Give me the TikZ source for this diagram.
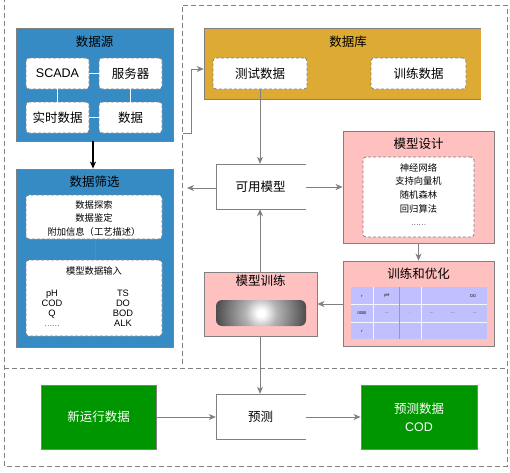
\documentclass[tikz,border=0pt]{standalone}
\usepackage{fontspec}
\setmainfont{Noto Sans CJK SC}
\newfontfamily\lat{Liberation Sans}
\usetikzlibrary{arrows.meta}
\definecolor{lgray}{RGB}{128,128,128}
\definecolor{sblue}{RGB}{54,139,196}
\definecolor{sorange}{RGB}{221,170,51}
\definecolor{spink}{RGB}{255,192,192}
\definecolor{sgreen}{RGB}{0,150,0}
\definecolor{slav}{RGB}{192,192,255}
\pgfdeclareradialshading{myrad}{\pgfpoint{0bp}{0bp}}{color(0bp)=(white); color(2bp)=(white); color(9bp)=(black!30); color(25bp)=(black!70); color(50bp)=(black!70)}
\begin{document}
\begin{tikzpicture}[x=1pt,y=-1pt,
 frame/.style={draw=lgray,dash pattern=on 5pt off 3pt,line width=0.8pt},
 panel/.style={draw=lgray,line width=0.8pt,inner sep=0pt},
 ibox/.style={draw=lgray,fill=white,dash pattern=on 3pt off 2pt,rounded corners=3pt,line width=0.8pt,inner sep=0pt},
 big/.style={font=\fontsize{12.5}{14}\selectfont,inner sep=0pt},
 small/.style={font=\fontsize{9.3}{13.6}\selectfont,align=center,inner sep=0pt},
 tiny/.style={font=\lat\fontsize{4}{5}\selectfont,inner sep=0pt},
 arr/.style={draw=lgray,line width=1pt,-{Stealth[length=7pt,width=6pt,inset=2pt]}},
 link/.style={draw=lgray,line width=0.8pt},
 wlink/.style={draw=white,line width=1pt},
]
\useasboundingbox (0,0) rectangle (510,472);
% frames
\draw[frame] (4,-3) -- (4,466) -- (507,466) -- (507,5) -- (182,5) -- (182,365);
\draw[frame] (4,368) -- (507,368);

% ===== data source =====
\node[panel,fill=sblue,minimum width=157pt,minimum height=113pt] (dsrc) at (94.5,84.5) {};
\node[big] (dsrct) at (94.5,42) {数据源};
\node[ibox,minimum width=63pt,minimum height=31pt] (scada) at (57.5,73.5) {};
\node[ibox,minimum width=63pt,minimum height=31pt] (server) at (130.5,73.5) {};
\node[ibox,minimum width=63pt,minimum height=31pt] (rt) at (57.5,117.5) {};
\node[ibox,minimum width=63pt,minimum height=31pt] (data) at (130.5,117.5) {};
\node[big,font=\lat\fontsize{12.5}{14}\selectfont] at (scada) {SCADA};
\node[big] at (server) {服务器};
\node[big] at (rt) {实时数据};
\node[big] at (data) {数据};
\draw[wlink] (scada) -- (server);
\draw[wlink] (scada) -- (rt);
\draw[wlink] (server) -- (data);
\draw[wlink] (rt) -- (data);

% ===== data filter =====
\node[panel,fill=sblue,minimum width=157pt,minimum height=178pt] (filt) at (94.5,258) {};
\node[big] (filtt) at (94.5,182) {数据筛选};
\node[ibox,minimum width=136pt,minimum height=44pt] (fb1) at (94,217) {};
\node[small] at (94,218.5) {数据探索\\数据鉴定\\附加信息（工艺描述）};
\node[ibox,minimum width=136pt,minimum height=76pt] (fb2) at (94,298) {};
\node[small] at (94,271) {模型数据输入};
\node[font=\lat\fontsize{9.3}{10}\selectfont,align=center,inner sep=0pt] at (52,308) {pH\\COD\\Q\\{\rmfamily\fontsize{7}{10}\selectfont ……}};
\node[font=\lat\fontsize{9.3}{10}\selectfont,align=center,inner sep=0pt] at (123,308) {TS\\DO\\BOD\\ALK};
\draw[link] (fb1.south -| 95,0) -- (fb2.north -| 95,0);
\draw[line width=1.5pt,-{Stealth[length=7pt,width=6pt,inset=2pt]}] (dsrc.south -| 93,0) -- (filt.north -| 93,0);

% ===== database =====
\fill[sorange] (204,28) rectangle (481,99);
\node[inner sep=0pt,minimum width=277pt,minimum height=71pt] (db) at (342.5,63.5) {};
\draw[link] (481,28) -- (204,28) -- (204,99) -- (481,99);
\node[big] at (348,42) {数据库};
\node[ibox,minimum width=94pt,minimum height=31pt] (test) at (260,73.5) {};
\node[ibox,minimum width=95pt,minimum height=31pt] (train) at (418.5,73.5) {};
\node[big] at (test) {测试数据};
\node[big] at (train) {训练数据};
\coordinate (lfout) at (183,133);
\draw[arr] (lfout) -- (191,133) -- (191,69) -- (db.west |- 0,69);

% ===== available model =====
\node[inner sep=0pt,minimum width=90pt,minimum height=45pt] (avail) at (261,186.5) {};
\draw[link] (306,164) -- (216,164) -- (216,209) -- (306,209);
\node[big] at (260.5,186.5) {可用模型};
\coordinate (availout) at (187,188);
\draw[arr] (avail.west |- 0,188) -- (availout);
\draw[arr] (test.south) -- (avail.north -| test.south);

% ===== model design =====
\node[panel,fill=spink,minimum width=151pt,minimum height=112pt] (design) at (418.5,187) {};
\node[big] at (418.5,144) {模型设计};
\node[ibox,minimum width=111pt,minimum height=80pt] (dinner) at (418.5,197) {};
\node[small] at (418.5,194.5) {神经网络\\支持向量机\\随机森林\\回归算法\\{\rmfamily\fontsize{7}{10}\selectfont ……}};
\draw[arr] (avail.east |- 0,187) -- (design.west |- 0,187);

% ===== train & optimise =====
\node[panel,fill=spink,minimum width=151pt,minimum height=85pt] (topt) at (418.5,303.5) {};
\node[big] at (418.5,274) {训练和优化};
\node[fill=slav,inner sep=0pt,minimum width=136pt,minimum height=52pt] (tbl) at (419,313) {};
\draw[white!85!slav,line width=0.6pt] (351,304.5) -- (487,304.5) (351,322) -- (487,322) (373,287) -- (373,339) (421,287) -- (421,339);
\draw[black!22!slav,line width=0.6pt] (399,287) -- (399,339);
\node[tiny] at (362,296) {r};
\node[tiny] at (387,296) {pH};
\node[tiny] at (473,296) {DO};
\node[tiny] at (362,313) {0000};
\node[tiny] at (387,313) {...};
\node[tiny,text=black!40] at (410,313) {...};
\node[tiny] at (432,313) {...};
\node[tiny] at (453,313) {...};
\node[tiny] at (475,313) {...};
\node[tiny] at (362,331) {r};
\draw[arr] (design.south) -- (topt.north);

% ===== model training =====
\node[panel,fill=spink,minimum width=113pt,minimum height=64pt] (mtrain) at (260.5,304) {};
\node[big] at (260.5,281) {模型训练};
\node[rounded corners=6pt,inner sep=0pt,minimum width=90pt,minimum height=26pt,
  path picture={\shade[shading=myrad] ([shift={(-45pt,-45pt)}]path picture bounding box.center) rectangle ([shift={(45pt,45pt)}]path picture bounding box.center);}] (grad) at (261,313) {};
\draw[arr] (topt.west |- 0,304) -- (mtrain.east |- 0,304);
\draw[arr] (mtrain.north -| 260,0) -- (avail.south -| 260,0);

% ===== bottom row =====
\node[inner sep=0pt,minimum width=90pt,minimum height=45pt] (pred) at (261,416.5) {};
\draw[link] (306,394) -- (216,394) -- (216,439) -- (306,439);
\node[big] at (260.5,416.5) {预测};
\node[panel,fill=sgreen,minimum width=115pt,minimum height=64pt] (newd) at (98.5,417) {};
\node[big,text=white] at (newd) {新运行数据};
\node[panel,fill=sgreen,minimum width=116pt,minimum height=64pt] (predd) at (419,417) {};
\node[big,text=white,align=center,font=\fontsize{12.5}{18}\selectfont] at (419,417) {预测数据\\{\lat COD}};
\draw[arr] (mtrain.south -| 260,0) -- (pred.north -| 260,0);
\draw[arr] (newd.east |- 0,417) -- (pred.west |- 0,417);
\draw[arr] (pred.east |- 0,417) -- (predd.west |- 0,417);
\end{tikzpicture}
\end{document}
